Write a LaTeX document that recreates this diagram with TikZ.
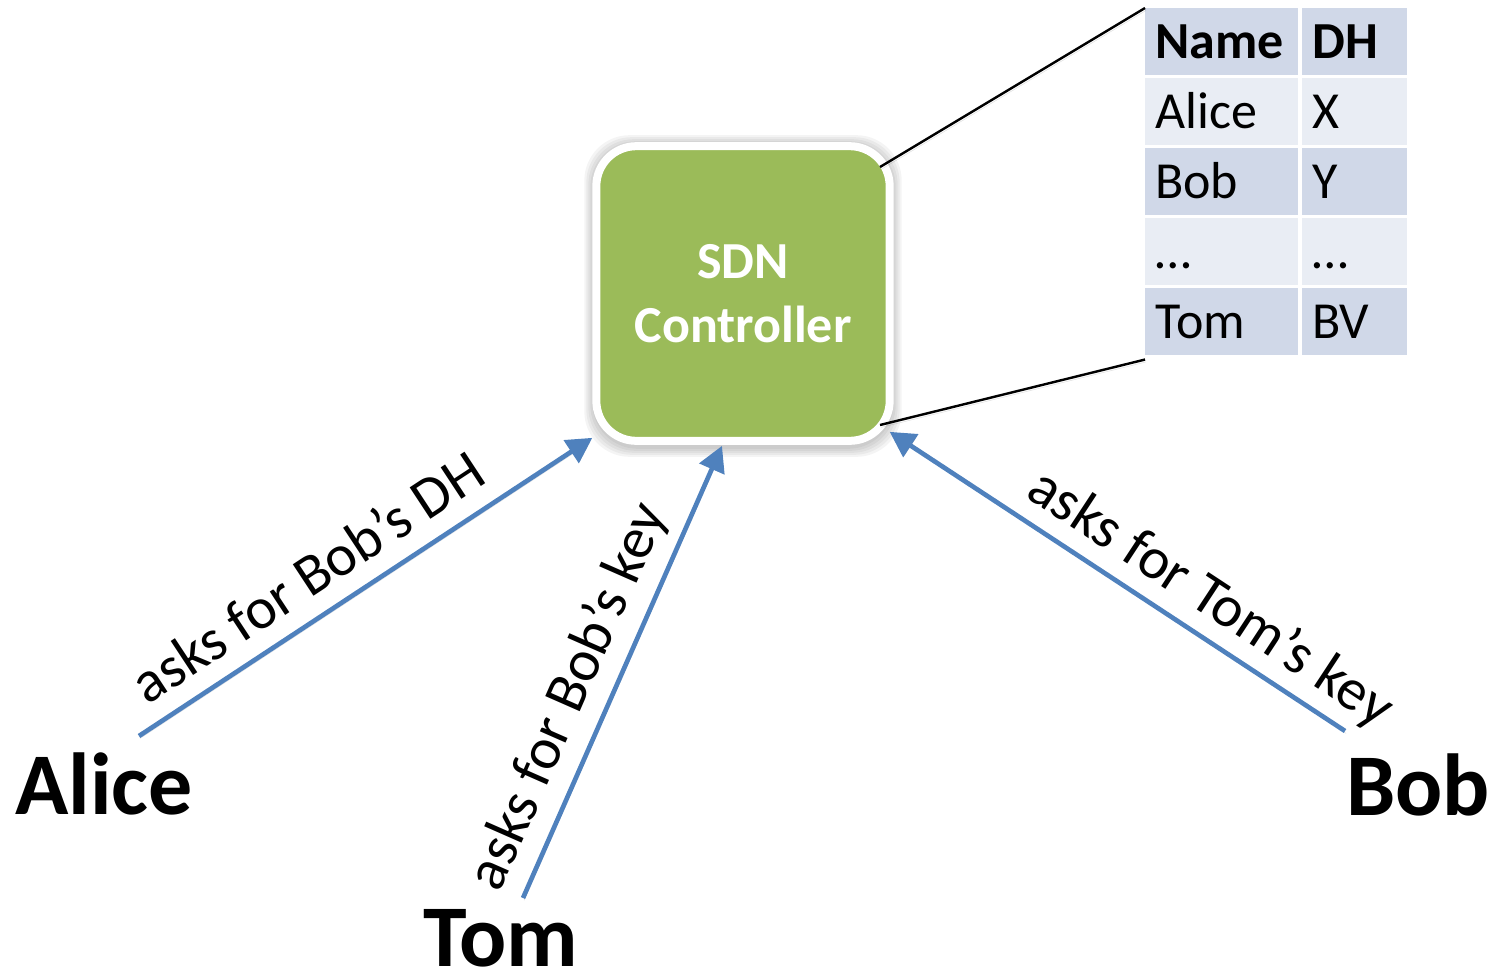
\documentclass[tikz,border=0pt]{standalone}
\usepackage{fontspec}
\setmainfont{Carlito}
\usetikzlibrary{arrows.meta,backgrounds}
\definecolor{ctrlgreen}{HTML}{9BBB59}
\definecolor{arrowblue}{HTML}{4F81BD}
\definecolor{rowdark}{HTML}{D0D8E8}
\definecolor{rowlight}{HTML}{E9EDF4}

\begin{document}
\begin{tikzpicture}[x=0.75pt,y=-0.75pt,
  controller/.style={draw=white, line width=6pt, fill=ctrlgreen,
    rounded corners=30pt, minimum width=220pt, minimum height=221pt,
    text=white, align=center, font=\bfseries\fontsize{39}{48}\selectfont},
  halo/.style={fill=black, opacity=0.045},
  person/.style={font=\bfseries\fontsize{66}{79}\selectfont, inner sep=0pt, anchor=base},
  cell/.style={anchor=north west, inner xsep=7.5pt, inner ysep=0pt,
    minimum height=50.25pt, text height=24.75pt, text depth=0pt,
    align=left, font=\fontsize{39}{47}\selectfont},
  namecol/.style={cell, minimum width=114.75pt, text width=99.75pt},
  keycol/.style={cell, minimum width=78.75pt, text width=63.75pt},
  head/.style={font=\bfseries\fontsize{39}{47}\selectfont},
  softshadow/.style={preaction={draw=black, opacity=0.12,
    transform canvas={shift={(0.8pt,-1.8pt)}}}},
  request/.style={softshadow, draw=arrowblue, line width=3.5pt,
    -{Triangle[length=19pt,width=20pt]}},
  zoomline/.style={softshadow, draw=black, line width=1.8pt},
  asklabel/.style={font=\fontsize{44}{53}\selectfont, text=black, sloped}
]
\useasboundingbox (0,0) rectangle (1492,975);

% SDN controller
\node[controller] (ctrl) at (743,293.5) {SDN\\Controller};

% soft halo behind the controller's white rim
\begin{scope}[on background layer]
  \foreach \g in {2,4,6,8,10}
    \fill[halo, rounded corners=34pt]
      ([shift={(-\g+2,-\g+3)}]ctrl.north west) rectangle ([shift={(\g-2,\g+2)}]ctrl.south east);
\end{scope}

% key table held by the controller
\node[namecol, head, fill=rowdark]  (nameH) at (1145,8)   {Name};
\node[keycol,  head, fill=rowdark]  (dhH)   at (1302,8)   {DH};
\node[namecol, fill=rowlight]       (nameA) at (1145,78)  {Alice};
\node[keycol,  fill=rowlight]       (dhA)   at (1302,78)  {X};
\node[namecol, fill=rowdark]        (nameB) at (1145,148) {Bob};
\node[keycol,  fill=rowdark]        (dhB)   at (1302,148) {Y};
\node[namecol, fill=rowlight]       (nameE) at (1145,218) {…};
\node[keycol,  fill=rowlight]       (dhE)   at (1302,218) {…};
\node[namecol, fill=rowdark]        (nameT) at (1145,288) {Tom};
\node[keycol,  fill=rowdark]        (dhT)   at (1302,288) {BV};

% lines linking the controller to its table
\coordinate (ctrlTR) at (880,167);
\coordinate (ctrlBR) at (880,425);
\draw[zoomline] (ctrlTR) -- (nameH.north west);
\draw[zoomline] (ctrlBR) -- ([yshift=-3]nameT.south west);

% hosts
\node[person] (alice) at (104,814) {Alice};
\node[person] (tom)   at (501,966) {Tom};
\node[person] (bob)   at (1418,815) {Bob};

% key requests
\draw[request] ([shift={(35,-78)}]alice.base) -- ([shift={(0,-7)}]ctrl.south west)
  node[asklabel, above=10pt, pos=0.42] {asks for Bob’s DH};
\draw[request] ([shift={(22,-68)}]tom.base) -- ([shift={(-21,1)}]ctrl.south)
  node[asklabel, above=5pt, pos=0.41] {asks for Bob’s key};
\draw[request] ([shift={(-73,-84)}]bob.base) -- ([shift={(-4,-13)}]ctrl.south east)
  node[asklabel, above=3pt, pos=0.34] {asks for Tom’s key};
\end{tikzpicture}
\end{document}
